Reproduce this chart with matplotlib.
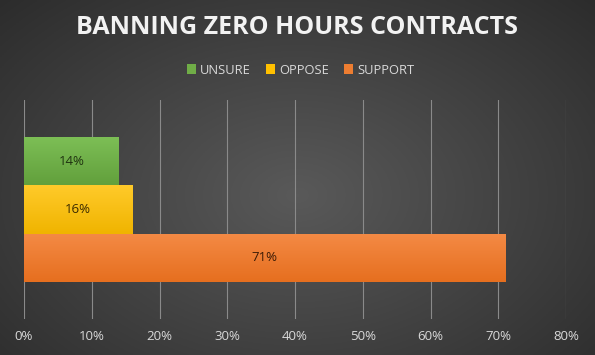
import numpy as np
import matplotlib
matplotlib.use("Agg")
import matplotlib.pyplot as plt
from matplotlib.patches import Patch

# data
series = ["UNSURE", "OPPOSE", "SUPPORT"]
values = [14, 16, 71]
colors = ["#70AD47", "#FFC000", "#ED7D31"]
light = ["#7dbf56", "#ffca2a", "#f48a45"]
dark = ["#62a03c", "#f0b400", "#e66f1f"]
xticks = [0, 10, 20, 30, 40, 50, 60, 70, 80]
xtick_labels = [f"{t}%" for t in xticks]
label_colors = ["#1f3310", "#3a2a00", "#3a1a05"]

W, H = 595, 355
fig = plt.figure(figsize=(W / 100, H / 100), dpi=100)

# radial background
bg = fig.add_axes([0, 0, 1, 1], zorder=-10)
yy, xx = np.mgrid[0:1:200j, 0:1:340j]
r = np.sqrt(((xx - 0.5) / 0.75) ** 2 + ((yy - 0.45) / 0.85) ** 2)
shade = np.clip(0.35 - 0.19 * r, 0.17, 0.35)
bg.imshow(np.dstack([shade] * 3), aspect="auto", extent=[0, 1, 0, 1], origin="lower")
bg.set_axis_off()

ax = fig.add_axes([24 / W, 1 - 319 / H, (566 - 24) / W, (319 - 100) / H])
ax.set_facecolor("none")
for s in ax.spines.values():
    s.set_visible(False)

ypos = [1, 0, -1]
bars = ax.barh(ypos, values, height=1.0, color=colors, zorder=3)
for b, c1, c2 in zip(bars, light, dark):
    x0, y0 = b.get_x(), b.get_y()
    w, h = b.get_width(), b.get_height()
    grad = np.linspace(0, 1, 50).reshape(-1, 1)
    rgb1 = np.array(matplotlib.colors.to_rgb(c1))
    rgb2 = np.array(matplotlib.colors.to_rgb(c2))
    img = rgb2[None, None, :] * (1 - grad[..., None]) + rgb1[None, None, :] * grad[..., None]
    im = ax.imshow(img, extent=[x0, x0 + w, y0, y0 + h], origin="lower",
                   aspect="auto", zorder=4)
    im.set_clip_path(b)

for yv, v, lc in zip(ypos, values, label_colors):
    ax.text(v / 2, yv, f"{v}%", ha="center", va="center", fontsize=9.5,
            color=lc, zorder=5, family="Open Sans")

ax.set_xlim(0, 80)
ax.set_ylim(-2.28, 2.28)
ax.set_xticks(xticks)
ax.set_xticklabels(xtick_labels, color="#d9d9d9", fontsize=9.5, family="Open Sans")
ax.set_yticks([])
ax.tick_params(axis="x", length=0, pad=8)
ax.grid(axis="x", color="#8a8a8a", linewidth=0.8, zorder=0)

fig.text(0.5, 1 - 28 / H, "BANNING ZERO HOURS CONTRACTS", ha="center", va="center",
         fontsize=18, fontweight="bold", color="#f2f2f2", family="Open Sans")

handles = [Patch(facecolor=c, edgecolor="none") for c in colors]
fig.legend(handles, series, loc="center", bbox_to_anchor=(0.505, 1 - 70 / H), ncol=3,
           frameon=False, labelcolor="#d9d9d9", handlelength=0.7,
           handleheight=0.7, handletextpad=0.3, columnspacing=1.2,
           prop={"family": "Open Sans", "size": 9.3})

fig.savefig("out.png", dpi=100)
